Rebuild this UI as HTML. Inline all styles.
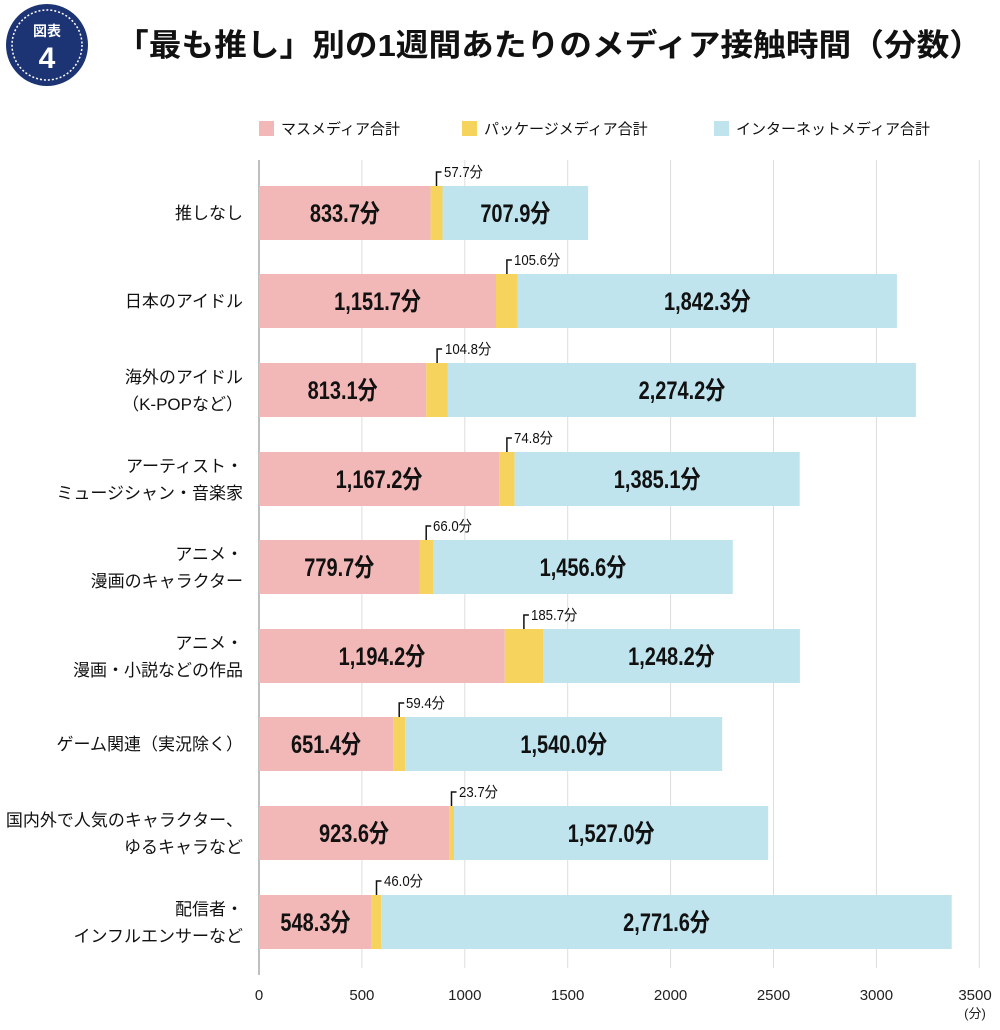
<!DOCTYPE html>
<html><head><meta charset="utf-8"><style>
body{margin:0;background:#fff}
svg{display:block;font-family:"Liberation Sans","Noto Sans CJK JP",sans-serif}
.c{font-size:17px;fill:#111;text-anchor:end}
.v{font-size:25px;font-weight:bold;fill:#111;text-anchor:middle}
.v text{transform-box:fill-box;transform-origin:center;transform:scaleX(0.8)}
.s{font-size:15px;fill:#111}
.s text{transform-box:fill-box;transform-origin:left;transform:scaleX(0.88)}
.t{font-size:15px;fill:#222;text-anchor:middle}
</style></head><body>
<svg width="1000" height="1030" viewBox="0 0 1000 1030">
<circle cx="47" cy="45" r="41" fill="#1d3474"/>
<circle cx="47" cy="45" r="35" fill="none" stroke="#fff" stroke-width="1.5" stroke-dasharray="2 2"/>
<text x="47" y="36" font-size="14" font-weight="bold" fill="#fff" text-anchor="middle">図表</text>
<text x="47" y="68" font-size="30" font-weight="bold" fill="#fff" text-anchor="middle">4</text>
<text x="116" y="56" font-size="31" font-weight="bold" fill="#111" textLength="866" lengthAdjust="spacingAndGlyphs">「最も推し」別の1週間あたりのメディア接触時間（分数）</text>

<rect x="259" y="121" width="15" height="15" fill="#f2b8b8"/><text x="281" y="134" font-size="15" fill="#111">マスメディア合計</text>
<rect x="462" y="121" width="15" height="15" fill="#f5d35c"/><text x="484" y="134" font-size="15" fill="#111">パッケージメディア合計</text>
<rect x="714" y="121" width="15" height="15" fill="#bfe4ee"/><text x="736" y="134" font-size="15" fill="#111">インターネットメディア合計</text>

<g stroke="#ddd" stroke-width="1">
<line x1="361.9" y1="160" x2="361.9" y2="968"/><line x1="464.8" y1="160" x2="464.8" y2="968"/>
<line x1="567.7" y1="160" x2="567.7" y2="968"/><line x1="670.6" y1="160" x2="670.6" y2="968"/>
<line x1="773.5" y1="160" x2="773.5" y2="968"/><line x1="876.4" y1="160" x2="876.4" y2="968"/>
<line x1="979.3" y1="160" x2="979.3" y2="968"/>
</g>
<line x1="259" y1="160" x2="259" y2="975" stroke="#aaa" stroke-width="1.5"/>
<g class="t">
<text x="259" y="1000">0</text><text x="361.9" y="1000">500</text><text x="464.8" y="1000">1000</text>
<text x="567.7" y="1000">1500</text><text x="670.6" y="1000">2000</text><text x="773.5" y="1000">2500</text>
<text x="876.4" y="1000">3000</text><text x="975" y="1000">3500</text><text x="975" y="1018" font-size="13">(分)</text>
</g>

<g>
<rect x="259" y="186" width="171.6" height="54" fill="#f2b8b8"/><rect x="430.6" y="186" width="11.9" height="54" fill="#f5d35c"/><rect x="442.5" y="186" width="145.6" height="54" fill="#bfe4ee"/>
<rect x="259" y="274" width="237" height="54" fill="#f2b8b8"/><rect x="496" y="274" width="21.8" height="54" fill="#f5d35c"/><rect x="517.8" y="274" width="379.1" height="54" fill="#bfe4ee"/>
<rect x="259" y="363" width="167.3" height="54" fill="#f2b8b8"/><rect x="426.3" y="363" width="21.6" height="54" fill="#f5d35c"/><rect x="447.9" y="363" width="468" height="54" fill="#bfe4ee"/>
<rect x="259" y="452" width="240.2" height="54" fill="#f2b8b8"/><rect x="499.2" y="452" width="15.4" height="54" fill="#f5d35c"/><rect x="514.6" y="452" width="285.1" height="54" fill="#bfe4ee"/>
<rect x="259" y="540" width="160.5" height="54" fill="#f2b8b8"/><rect x="419.5" y="540" width="13.5" height="54" fill="#f5d35c"/><rect x="433" y="540" width="299.8" height="54" fill="#bfe4ee"/>
<rect x="259" y="629" width="245.8" height="54" fill="#f2b8b8"/><rect x="504.8" y="629" width="38.2" height="54" fill="#f5d35c"/><rect x="543" y="629" width="256.9" height="54" fill="#bfe4ee"/>
<rect x="259" y="717" width="134.1" height="54" fill="#f2b8b8"/><rect x="393.1" y="717" width="12.2" height="54" fill="#f5d35c"/><rect x="405.3" y="717" width="316.9" height="54" fill="#bfe4ee"/>
<rect x="259" y="806" width="190.1" height="54" fill="#f2b8b8"/><rect x="449.1" y="806" width="4.9" height="54" fill="#f5d35c"/><rect x="454" y="806" width="314.2" height="54" fill="#bfe4ee"/>
<rect x="259" y="895" width="112.8" height="54" fill="#f2b8b8"/><rect x="371.8" y="895" width="9.5" height="54" fill="#f5d35c"/><rect x="381.3" y="895" width="570.4" height="54" fill="#bfe4ee"/>
</g>

<g stroke="#111" stroke-width="1.5" fill="none">
<path d="M436.5 186V172h5"/><path d="M506.9 274V260h5"/><path d="M437.1 363V349h5"/>
<path d="M506.9 452V438h5"/><path d="M426.2 540V526h5"/><path d="M523.9 629V615h5"/>
<path d="M399.2 717V703h5"/><path d="M451.5 806V792h5"/><path d="M376.5 895V881h5"/>
</g>
<g class="s">
<text x="444" y="177">57.7分</text><text x="514" y="265">105.6分</text><text x="445" y="354">104.8分</text>
<text x="514" y="443">74.8分</text><text x="433" y="531">66.0分</text><text x="531" y="620">185.7分</text>
<text x="406" y="708">59.4分</text><text x="459" y="797">23.7分</text><text x="384" y="886">46.0分</text>
</g>

<g class="v">
<text x="344.8" y="222">833.7分</text><text x="515.3" y="222">707.9分</text>
<text x="377.5" y="310">1,151.7分</text><text x="707.3" y="310">1,842.3分</text>
<text x="342.6" y="399">813.1分</text><text x="681.9" y="399">2,274.2分</text>
<text x="379" y="488">1,167.2分</text><text x="657.1" y="488">1,385.1分</text>
<text x="339.2" y="576">779.7分</text><text x="582.9" y="576">1,456.6分</text>
<text x="381.9" y="665">1,194.2分</text><text x="671.4" y="665">1,248.2分</text>
<text x="326" y="753">651.4分</text><text x="563.7" y="753">1,540.0分</text>
<text x="354" y="842">923.6分</text><text x="611.1" y="842">1,527.0分</text>
<text x="315.4" y="931">548.3分</text><text x="666.5" y="931">2,771.6分</text>
</g>

<g class="c">
<text x="243" y="219">推しなし</text>
<text x="243" y="307">日本のアイドル</text>
<text x="243" y="383">海外のアイドル</text><text x="243" y="410">（K-POPなど）</text>
<text x="243" y="472">アーティスト・</text><text x="243" y="499">ミュージシャン・音楽家</text>
<text x="243" y="560">アニメ・</text><text x="243" y="587">漫画のキャラクター</text>
<text x="243" y="649">アニメ・</text><text x="243" y="676">漫画・小説などの作品</text>
<text x="243" y="750">ゲーム関連（実況除く）</text>
<text x="243" y="826">国内外で人気のキャラクター、</text><text x="243" y="853">ゆるキャラなど</text>
<text x="243" y="915">配信者・</text><text x="243" y="942">インフルエンサーなど</text>
</g>
</svg>
</body></html>
